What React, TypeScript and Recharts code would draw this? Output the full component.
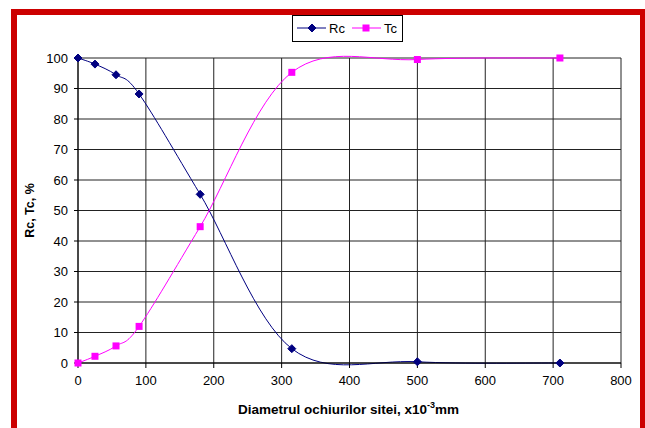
import {
  CartesianGrid,
  Line,
  LineChart,
  XAxis,
  YAxis,
} from "recharts";

// sieve mesh size, x10^-3 mm
const sizes = [0, 25, 56, 90, 180, 315, 500, 710];
const rcValues = [100, 98, 94.5, 88.2, 55.3, 4.7, 0.4, 0];
const tcValues = [0, 2.2, 5.6, 12, 44.7, 95.3, 99.5, 100];
const xTicks = [0, 100, 200, 300, 400, 500, 600, 700, 800];
const yTicks = [0, 10, 20, 30, 40, 50, 60, 70, 80, 90, 100];

const data = sizes.map((x, i) => ({ x, Rc: rcValues[i], Tc: tcValues[i] }));

const RC = "#000080";
const TC = "#FF00FF";
const FONT = "'Liberation Sans', Arial, sans-serif";

// excel-like smoothed line (bezier through every point)
const smoothCurve = (context: any) => {
  let pts: number[][] = [];
  return {
    areaStart() {},
    areaEnd() {},
    lineStart() {
      pts = [];
    },
    point(x: number, y: number) {
      pts.push([+x, +y]);
    },
    lineEnd() {
      if (!pts.length) return;
      context.moveTo(pts[0][0], pts[0][1]);
      for (let i = 0; i < pts.length - 1; i++) {
        const p0 = pts[Math.max(i - 1, 0)];
        const p1 = pts[i];
        const p2 = pts[i + 1];
        const p3 = pts[Math.min(i + 2, pts.length - 1)];
        context.bezierCurveTo(
          p1[0] + (p2[0] - p0[0]) / 6,
          p1[1] + (p2[1] - p0[1]) / 6,
          p2[0] - (p3[0] - p1[0]) / 6,
          p2[1] - (p3[1] - p1[1]) / 6,
          p2[0],
          p2[1]
        );
      }
    },
  };
};

const Diamond = ({ cx, cy, size = 4 }: any) => (
  <path
    d={`M${cx},${cy - size}L${cx + size},${cy}L${cx},${cy + size}L${cx - size},${cy}Z`}
    fill={RC}
    stroke={RC}
  />
);

const Square = ({ cx, cy, size = 3.5 }: any) => (
  <rect x={cx - size} y={cy - size} width={size * 2} height={size * 2} fill={TC} />
);

const LegendBox = () => (
  <div
    style={{
      position: "absolute",
      left: 292,
      top: 15,
      width: 109,
      height: 25,
      border: "1px solid #000",
      background: "#fff",
    }}
  >
    <svg width={109} height={25} style={{ position: "absolute", left: 0, top: 0 }}>
      <line x1={4} x2={33} y1={12} y2={12} stroke={RC} />
      <Diamond cx={19} cy={12} />
      <text x={36} y={17} fontSize={13} fontFamily={FONT}>Rc</text>
      <line x1={59} x2={88} y1={12} y2={12} stroke={TC} />
      <Square cx={73} cy={12} />
      <text x={91} y={17} fontSize={13} fontFamily={FONT}>Tc</text>
    </svg>
  </div>
);

export default function App() {
  return (
    <div
      style={{
        position: "absolute",
        left: 0,
        top: 0,
        width: 645,
        height: 428,
        overflow: "hidden",
        background: "#fff",
        fontFamily: FONT,
      }}
    >
      <div
        style={{
          position: "absolute",
          left: 11,
          top: 9,
          width: 623,
          height: 440,
          border: "6px solid #CC0000",
        }}
      />
      <div style={{ position: "absolute", left: 0, top: 0 }}>
        <LineChart
          width={645}
          height={428}
          data={data}
          margin={{ top: 58, right: 24, left: 0, bottom: 0 }}
        >
          <CartesianGrid stroke="#222" strokeWidth={1} />
          <XAxis
            dataKey="x"
            type="number"
            domain={[0, 800]}
            ticks={xTicks}
            height={65}
            tickSize={5}
            tickMargin={8}
            stroke="#000"
            tick={{ fill: "#000", fontSize: 13, fontFamily: FONT }}
            label={({ viewBox }: any) => (
              <text
                x={viewBox.x + viewBox.width / 2 - 1}
                y={414}
                textAnchor="middle"
                fontSize={13.5}
                fontWeight="bold"
                fontFamily={FONT}
                fill="#000"
              >
                Diametrul ochiurilor sitei, x10
                <tspan dy={-6} fontSize={9}>-3</tspan>
                <tspan dy={6}>mm</tspan>
              </text>
            )}
          />
          <YAxis
            type="number"
            domain={[0, 100]}
            ticks={yTicks}
            width={78}
            tickSize={4}
            tickMargin={6}
            stroke="#000"
            tick={{ fill: "#000", fontSize: 13, fontFamily: FONT }}
            label={({ viewBox }: any) => (
              <text
                x={34}
                y={viewBox.y + viewBox.height / 2}
                transform={`rotate(-90 34 ${viewBox.y + viewBox.height / 2})`}
                textAnchor="middle"
                fontSize={12.5}
                fontWeight="bold"
                fontFamily={FONT}
                fill="#000"
              >
                Rc, Tc, %
              </text>
            )}
          />
          <Line
            dataKey="Rc"
            type={smoothCurve as any}
            stroke={RC}
            strokeWidth={1}
            dot={(p: any) => <Diamond key={`rc-${p.index}`} cx={p.cx} cy={p.cy} />}
            activeDot={false}
            isAnimationActive={false}
          />
          <Line
            dataKey="Tc"
            type={smoothCurve as any}
            stroke={TC}
            strokeWidth={1}
            dot={(p: any) => <Square key={`tc-${p.index}`} cx={p.cx} cy={p.cy} />}
            activeDot={false}
            isAnimationActive={false}
          />
        </LineChart>
      </div>
      <LegendBox />
    </div>
  );
}
